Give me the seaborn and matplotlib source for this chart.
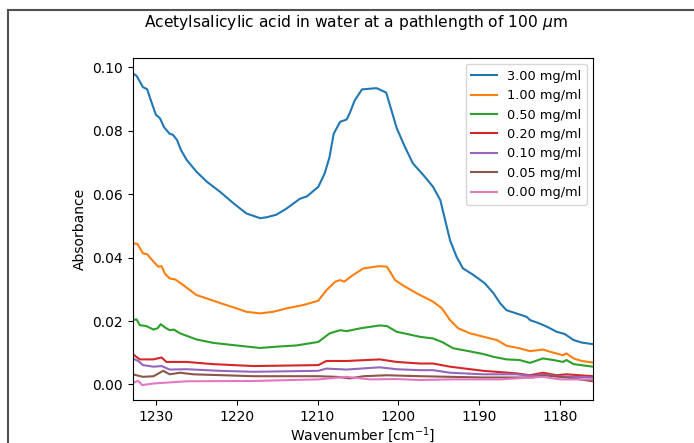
import pandas as pd
import matplotlib
matplotlib.use('Agg')
import matplotlib.pyplot as plt
from matplotlib.lines import Line2D
import seaborn as sns

# --- Dados (número de onda em cm^-1, absorbância) ---
labels = ['3.00 mg/ml', '1.00 mg/ml', '0.50 mg/ml', '0.20 mg/ml',
          '0.10 mg/ml', '0.05 mg/ml', '0.00 mg/ml']

wn_300 = [1232.9, 1232.4, 1231.6, 1231.1, 1230.5, 1230.0, 1229.5, 1229.0, 1228.3, 1227.9,
          1227.4, 1226.9, 1226.2, 1225.0, 1223.7, 1222.1, 1220.4, 1218.8, 1217.1, 1216.3,
          1215.1, 1213.8, 1212.2, 1211.3, 1209.9, 1209.1, 1208.5, 1208.0, 1207.2, 1206.4,
          1206.0, 1205.4, 1204.5, 1202.7, 1201.5, 1200.8, 1200.2, 1199.2, 1198.2, 1196.9,
          1195.7, 1194.8, 1194.2, 1193.6, 1192.8, 1192.0, 1190.7, 1189.3, 1188.2, 1187.4,
          1186.6, 1185.4, 1184.1, 1183.7, 1182.5, 1181.6, 1180.4, 1179.4, 1178.3, 1177.3,
          1175.9]
abs_300 = [0.0981, 0.0973, 0.0937, 0.0931, 0.0886, 0.0850, 0.0839, 0.0811, 0.0790, 0.0787,
           0.0771, 0.0739, 0.0708, 0.0671, 0.0639, 0.0608, 0.0571, 0.0539, 0.0524, 0.0527,
           0.0535, 0.0555, 0.0585, 0.0593, 0.0623, 0.0666, 0.0718, 0.0790, 0.0828, 0.0835,
           0.0856, 0.0895, 0.0930, 0.0934, 0.0920, 0.0860, 0.0808, 0.0750, 0.0697, 0.0660,
           0.0623, 0.0581, 0.0518, 0.0455, 0.0403, 0.0366, 0.0345, 0.0319, 0.0287, 0.0256,
           0.0234, 0.0224, 0.0213, 0.0203, 0.0192, 0.0182, 0.0166, 0.0159, 0.0140, 0.0132,
           0.0127]

wn_100 = [1232.9, 1232.3, 1231.6, 1231.1, 1230.3, 1229.7, 1229.3, 1228.9, 1228.3, 1227.6,
          1226.6, 1225.0, 1223.7, 1222.1, 1220.4, 1218.8, 1217.1, 1215.5, 1213.8, 1211.8,
          1209.9, 1208.9, 1207.8, 1207.2, 1206.7, 1205.6, 1204.3, 1202.3, 1201.4, 1200.4,
          1199.4, 1197.7, 1195.7, 1194.6, 1193.6, 1192.6, 1191.1, 1189.1, 1187.8, 1186.6,
          1185.0, 1183.7, 1182.1, 1181.2, 1179.6, 1179.2, 1178.3, 1177.3, 1175.9]
abs_100 = [0.0445, 0.0443, 0.0413, 0.0411, 0.0387, 0.0371, 0.0373, 0.0350, 0.0334, 0.0331,
           0.0313, 0.0282, 0.0271, 0.0257, 0.0243, 0.0229, 0.0224, 0.0229, 0.0240, 0.0250,
           0.0264, 0.0297, 0.0324, 0.0329, 0.0324, 0.0345, 0.0366, 0.0373, 0.0371, 0.0329,
           0.0312, 0.0287, 0.0261, 0.0240, 0.0203, 0.0177, 0.0161, 0.0148, 0.0140, 0.0122,
           0.0114, 0.0105, 0.0110, 0.0103, 0.0092, 0.0098, 0.0082, 0.0074, 0.0069]

wn_050 = [1232.9, 1232.4, 1232.0, 1231.2, 1230.3, 1229.8, 1229.4, 1228.9, 1228.3, 1227.8,
          1227.0, 1225.0, 1222.9, 1220.4, 1217.1, 1215.1, 1212.6, 1209.9, 1208.5, 1207.2,
          1206.4, 1204.7, 1202.3, 1201.4, 1200.2, 1198.9, 1197.3, 1195.7, 1194.6, 1193.2,
          1191.5, 1189.5, 1188.2, 1186.6, 1185.0, 1183.7, 1182.1, 1180.8, 1179.6, 1179.2,
          1178.3, 1175.9]
abs_050 = [0.0203, 0.0205, 0.0187, 0.0184, 0.0173, 0.0177, 0.0190, 0.0180, 0.0171, 0.0173,
           0.0161, 0.0142, 0.0131, 0.0124, 0.0115, 0.0119, 0.0123, 0.0134, 0.0161, 0.0171,
           0.0168, 0.0177, 0.0186, 0.0184, 0.0166, 0.0159, 0.0150, 0.0145, 0.0134, 0.0114,
           0.0106, 0.0096, 0.0087, 0.0079, 0.0077, 0.0068, 0.0082, 0.0077, 0.0071, 0.0077,
           0.0064, 0.0056]

wn_020 = [1232.9, 1232.0, 1230.3, 1229.3, 1228.7, 1226.2, 1222.9, 1217.9, 1209.9, 1208.9,
          1206.4, 1202.3, 1200.2, 1197.3, 1195.7, 1193.6, 1189.5, 1185.4, 1183.7, 1182.1,
          1180.4, 1179.2, 1175.9]
abs_020 = [0.0096, 0.0079, 0.0079, 0.0085, 0.0071, 0.0071, 0.0064, 0.0058, 0.0061, 0.0074,
           0.0074, 0.0079, 0.0071, 0.0066, 0.0066, 0.0056, 0.0043, 0.0035, 0.0029, 0.0037,
           0.0029, 0.0032, 0.0026]

wn_010 = [1232.9, 1232.2, 1231.6, 1230.3, 1229.3, 1228.3, 1226.2, 1222.1, 1217.9, 1209.9,
          1208.9, 1206.4, 1202.3, 1200.2, 1197.3, 1195.7, 1193.6, 1189.5, 1185.4, 1183.3,
          1182.1, 1180.4, 1175.9]
abs_010 = [0.0082, 0.0074, 0.0061, 0.0056, 0.0058, 0.0047, 0.0048, 0.0043, 0.0040, 0.0043,
           0.0050, 0.0047, 0.0054, 0.0048, 0.0045, 0.0045, 0.0037, 0.0032, 0.0032, 0.0026,
           0.0032, 0.0026, 0.0022]

wn_005 = [1232.9, 1231.6, 1230.3, 1229.1, 1228.3, 1227.0, 1225.4, 1217.9, 1209.9, 1207.6,
          1206.0, 1204.3, 1201.4, 1197.3, 1189.5, 1183.3, 1182.1, 1179.2, 1175.9]
abs_005 = [0.0032, 0.0024, 0.0026, 0.0043, 0.0032, 0.0037, 0.0032, 0.0026, 0.0026, 0.0024,
           0.0019, 0.0026, 0.0029, 0.0026, 0.0022, 0.0022, 0.0029, 0.0022, 0.0010]

wn_000 = [1232.9, 1232.2, 1231.7, 1230.3, 1226.2, 1217.9, 1209.9, 1206.4, 1203.5, 1200.2,
          1197.3, 1193.6, 1187.4, 1182.1, 1180.0, 1175.9]
abs_000 = [0.0005, 0.0011, -0.0002, 0.0003, 0.0010, 0.0011, 0.0016, 0.0024, 0.0016, 0.0017,
           0.0014, 0.0016, 0.0016, 0.0024, 0.0016, 0.0016]

series = [(wn_300, abs_300), (wn_100, abs_100), (wn_050, abs_050), (wn_020, abs_020),
          (wn_010, abs_010), (wn_005, abs_005), (wn_000, abs_000)]

df = pd.concat([pd.DataFrame({'wn': w, 'absorbance': a, 'conc': lab})
                for lab, (w, a) in zip(labels, series)], ignore_index=True)

# --- Figura ---
fig = plt.figure(figsize=(6.94, 4.43), dpi=100)
ax = fig.add_axes([132.5 / 694, 43 / 443, 460.5 / 694, 342 / 443])

sns.lineplot(data=df, x='wn', y='absorbance', hue='conc', hue_order=labels,
             palette=sns.color_palette('tab10', 7), estimator=None, sort=False,
             linewidth=1.5, ax=ax)

ax.set_xlim(1232.9, 1175.9)
ax.set_ylim(-0.0049, 0.1029)
ax.set_xticks([1230, 1220, 1210, 1200, 1190, 1180])
ax.set_yticks([0.00, 0.02, 0.04, 0.06, 0.08, 0.10])
ax.set_xlabel('Wavenumber [cm$^{-1}$]', labelpad=1.0)
ax.set_ylabel('Absorbance')
sns.move_legend(ax, 'upper right', title=None, fontsize=9.3)

fig.text(356 / 694, 1 - 27 / 443, r'Acetylsalicylic acid in water at a pathlength of 100 $\mu$m',
         ha='center', va='baseline', fontsize=11.2)

# moldura da captura de tela
fig.add_artist(Line2D([8 / 694, 8 / 694], [0, 1 - 10 / 443], color='#505050', lw=1.5))
fig.add_artist(Line2D([8 / 694, 1], [1 - 10 / 443, 1 - 10 / 443], color='#505050', lw=1.5))

plt.savefig('out.png', dpi=100)
